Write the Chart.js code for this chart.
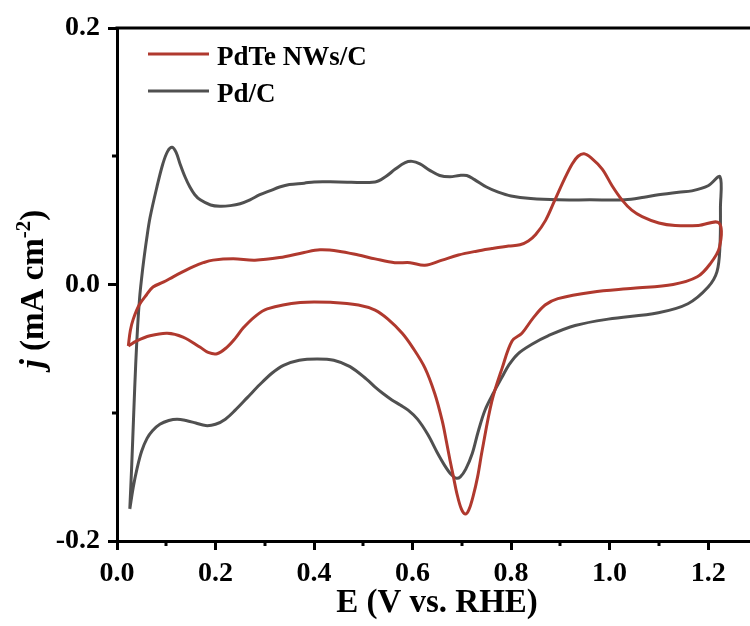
<!DOCTYPE html>
<html><head><meta charset="utf-8">
<script src="https://cdn.jsdelivr.net/npm/chart.js@4/dist/chart.umd.min.js"></script>
<style>html,body{margin:0;padding:0;background:#fff;}</style>
</head><body>
<canvas id="c" width="750" height="626"></canvas>
<script>
// ---- Data ----
const seriesNames = ["PdTe NWs/C", "Pd/C"];
const xTickValues = [0.0, 0.2, 0.4, 0.6, 0.8, 1.0, 1.2];
const yTickValues = [-0.2, 0.0, 0.2];

// Pd/C cyclic voltammogram (anodic then cathodic sweep)
const pdcE = [0.026,0.030,0.034,0.038,0.042,0.046,0.050,0.054,0.060,0.067,0.081,0.093,0.103,0.112,0.120,0.128,0.138,0.148,0.158,0.169,0.190,0.209,0.230,0.250,0.270,0.290,0.310,0.330,0.350,0.380,0.400,0.450,0.524,0.545,0.565,0.585,0.599,0.615,0.635,0.655,0.676,0.695,0.710,0.725,0.750,0.774,0.800,0.840,0.895,0.960,1.031,1.070,1.099,1.140,1.167,1.200,1.224,
  1.225,1.224,1.218,1.200,1.159,1.099,0.997,0.930,0.875,0.845,0.814,0.795,0.782,0.765,0.747,0.733,0.721,0.708,0.697,0.688,0.678,0.665,0.650,0.631,0.610,0.591,0.575,0.558,0.540,0.524,0.507,0.473,0.440,0.406,0.370,0.338,0.315,0.290,0.265,0.240,0.220,0.200,0.180,0.160,0.140,0.122,0.105,0.087,0.072,0.061,0.050,0.041,0.033,0.026];
const pdcJ = [-0.175,-0.140,-0.100,-0.062,-0.032,-0.010,0.005,0.018,0.035,0.052,0.076,0.094,0.104,0.107,0.103,0.094,0.084,0.076,0.070,0.066,0.062,0.061,0.0615,0.063,0.066,0.070,0.073,0.076,0.078,0.079,0.080,0.080,0.080,0.084,0.090,0.095,0.096,0.094,0.089,0.085,0.084,0.085,0.085,0.082,0.076,0.072,0.069,0.067,0.066,0.066,0.066,0.068,0.070,0.072,0.073,0.077,0.084,
  0.060,0.030,0.010,-0.002,-0.015,-0.022,-0.027,-0.032,-0.040,-0.046,-0.054,-0.063,-0.072,-0.084,-0.098,-0.115,-0.132,-0.144,-0.150,-0.151,-0.148,-0.141,-0.131,-0.117,-0.105,-0.098,-0.094,-0.090,-0.085,-0.080,-0.074,-0.064,-0.059,-0.058,-0.059,-0.063,-0.069,-0.078,-0.088,-0.098,-0.105,-0.109,-0.110,-0.108,-0.106,-0.105,-0.106,-0.109,-0.114,-0.120,-0.130,-0.143,-0.158,-0.175];

// PdTe NWs/C cyclic voltammogram
const pdteE = [0.023,0.027,0.033,0.045,0.060,0.073,0.095,0.114,0.134,0.155,0.175,0.195,0.236,0.280,0.330,0.380,0.412,0.450,0.490,0.524,0.564,0.595,0.625,0.660,0.693,0.730,0.761,0.795,0.818,0.835,0.850,0.870,0.889,0.908,0.924,0.936,0.948,0.962,0.985,1.005,1.025,1.045,1.066,1.100,1.133,1.180,1.222,
  1.223,1.204,1.178,1.129,1.048,0.964,0.895,0.869,0.845,0.822,0.802,0.782,0.761,0.741,0.732,0.723,0.714,0.707,0.699,0.690,0.683,0.676,0.668,0.660,0.645,0.625,0.600,0.579,0.550,0.524,0.490,0.439,0.372,0.305,0.280,0.256,0.240,0.223,0.203,0.185,0.169,0.134,0.102,0.067,0.040,0.023];
const pdteJ = [-0.048,-0.036,-0.027,-0.016,-0.008,-0.002,0.002,0.006,0.010,0.014,0.017,0.019,0.020,0.019,0.021,0.025,0.027,0.026,0.023,0.020,0.017,0.017,0.015,0.019,0.023,0.026,0.028,0.030,0.031,0.034,0.039,0.050,0.066,0.082,0.094,0.100,0.102,0.099,0.090,0.077,0.066,0.058,0.053,0.048,0.046,0.046,0.048,
  0.029,0.016,0.006,0.000,-0.003,-0.006,-0.011,-0.016,-0.026,-0.038,-0.044,-0.065,-0.091,-0.130,-0.150,-0.165,-0.176,-0.179,-0.175,-0.163,-0.150,-0.137,-0.121,-0.106,-0.085,-0.065,-0.049,-0.038,-0.027,-0.020,-0.016,-0.014,-0.014,-0.019,-0.025,-0.034,-0.042,-0.049,-0.054,-0.053,-0.049,-0.041,-0.038,-0.040,-0.044,-0.048];

const colors = ["#B0392E", "#505050"];
const toPts = (xs, ys) => xs.map((x, i) => ({x: x, y: ys[i]}));

const FONT = "'Liberation Serif', 'Times New Roman', serif";

const decor = {
  id: 'decor',
  afterDraw(chart) {
    const ctx = chart.ctx, a = chart.chartArea;
    const xs = chart.scales.x, ys = chart.scales.y;
    ctx.save();
    ctx.strokeStyle = '#000';
    ctx.lineWidth = 3;
    ctx.beginPath(); ctx.moveTo(a.left - 1.5, a.top); ctx.lineTo(chart.width, a.top); ctx.stroke();
    [0.1,0.3,0.5,0.7,0.9,1.1].forEach(v => {
      const px = Math.round(xs.getPixelForValue(v));
      ctx.beginPath(); ctx.moveTo(px, a.bottom); ctx.lineTo(px, a.bottom + 5); ctx.stroke();
    });
    [-0.1, 0.1].forEach(v => {
      const py = Math.round(ys.getPixelForValue(v));
      ctx.beginPath(); ctx.moveTo(a.left, py); ctx.lineTo(a.left - 5, py); ctx.stroke();
    });
    // legend
    const legY = [54, 91];
    seriesNames.forEach((n, i) => {
      ctx.strokeStyle = colors[i];
      ctx.beginPath(); ctx.moveTo(148, legY[i]); ctx.lineTo(209, legY[i]); ctx.stroke();
      ctx.fillStyle = '#000';
      ctx.font = "bold 27px " + FONT;
      ctx.textAlign = 'left'; ctx.textBaseline = 'alphabetic';
      ctx.fillText(n, 217, legY[i] + 11);
    });
    // x title
    ctx.fillStyle = '#000';
    ctx.font = "bold 33px " + FONT;
    ctx.textAlign = 'center'; ctx.textBaseline = 'alphabetic';
    ctx.fillText("E (V vs. RHE)", 437, 612);
    // y title (mixed style)
    const parts = [
      {t: "j", f: "italic bold 33px " + FONT, dy: 0},
      {t: " (mA cm", f: "bold 33px " + FONT, dy: 0},
      {t: "-2", f: "bold 21px " + FONT, dy: -13},
      {t: ")", f: "bold 33px " + FONT, dy: 0}
    ];
    let total = 0;
    parts.forEach(p => { ctx.font = p.f; p.w = ctx.measureText(p.t).width; total += p.w; });
    ctx.translate(43, 289);
    ctx.rotate(-Math.PI / 2);
    ctx.textAlign = 'left';
    let cx = -total / 2;
    parts.forEach(p => { ctx.font = p.f; ctx.fillText(p.t, cx, p.dy); cx += p.w; });
    ctx.restore();
  }
};

new Chart(document.getElementById('c'), {
  type: 'scatter',
  data: {
    datasets: [
      {label: seriesNames[0], data: toPts(pdteE, pdteJ), showLine: true, borderColor: colors[0], borderWidth: 3, pointRadius: 0, tension: 0.35, fill: false},
      {label: seriesNames[1], data: toPts(pdcE, pdcJ), showLine: true, borderColor: colors[1], borderWidth: 3, pointRadius: 0, tension: 0.35, fill: false}
    ]
  },
  options: {
    responsive: false,
    animation: false,
    events: [],
    layout: {padding: {top: 28, right: 0, left: 0, bottom: 0}},
    plugins: {legend: {display: false}, tooltip: {enabled: false}},
    scales: {
      x: {
        type: 'linear', min: 0, max: 1.285,
        afterBuildTicks: s => { s.ticks = xTickValues.map(v => ({value: v})); },
        afterFit: s => { s.height = 85; },
        ticks: {color: '#000', font: {family: FONT, size: 28, weight: 'bold'}, padding: 7, maxRotation: 0,
          callback: v => Number(v).toFixed(1)},
        grid: {drawOnChartArea: false, drawTicks: true, tickLength: 9, tickWidth: 3, tickColor: '#000'},
        border: {display: true, color: '#000', width: 3}
      },
      y: {
        type: 'linear', min: -0.2, max: 0.2,
        afterBuildTicks: s => { s.ticks = yTickValues.map(v => ({value: v})); },
        afterFit: s => { s.width = 117; },
        ticks: {color: '#000', font: {family: FONT, size: 28, weight: 'bold'}, padding: 8,
          callback: v => Number(v).toFixed(1)},
        grid: {drawOnChartArea: false, drawTicks: true, tickLength: 9, tickWidth: 3, tickColor: '#000'},
        border: {display: true, color: '#000', width: 3}
      }
    }
  },
  plugins: [decor]
});
</script>
</body></html>
